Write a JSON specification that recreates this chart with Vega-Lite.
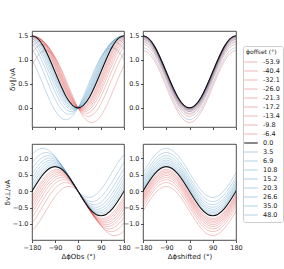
{
"$schema":"https://vega.github.io/schema/vega-lite/v6.json",
"autosize":{"type":"pad"},
"padding":{"left":2,"top":30,"right":0,"bottom":0},
"data":{"values":[
{"off":"-53.9","xs":-270,"xo":-216.1,"par":0.442,"perp":-1.356},{"off":"-53.9","xs":-225,"xo":-171.1,"par":0.972,"perp":-1.136},{"off":"-53.9","xs":-180,"xo":-126.1,"par":1.192,"perp":-0.606},{"off":"-53.9","xs":-135,"xo":-81.1,"par":0.972,"perp":-0.076},{"off":"-53.9","xs":-90,"xo":-36.1,"par":0.442,"perp":0.144},{"off":"-53.9","xs":-45,"xo":8.9,"par":-0.088,"perp":-0.076},{"off":"-53.9","xs":0,"xo":53.9,"par":-0.308,"perp":-0.606},{"off":"-53.9","xs":45,"xo":98.9,"par":-0.088,"perp":-1.136},{"off":"-53.9","xs":90,"xo":143.9,"par":0.442,"perp":-1.356},{"off":"-53.9","xs":135,"xo":188.9,"par":0.972,"perp":-1.136},{"off":"-53.9","xs":180,"xo":233.9,"par":1.192,"perp":-0.606},{"off":"-53.9","xs":225,"xo":278.9,"par":0.972,"perp":-0.076},{"off":"-53.9","xs":270,"xo":323.9,"par":0.442,"perp":0.144},
{"off":"-40.4","xs":-270,"xo":-229.6,"par":0.571,"perp":-1.236},{"off":"-40.4","xs":-225,"xo":-184.6,"par":1.102,"perp":-1.016},{"off":"-40.4","xs":-180,"xo":-139.6,"par":1.321,"perp":-0.486},{"off":"-40.4","xs":-135,"xo":-94.6,"par":1.102,"perp":0.044},{"off":"-40.4","xs":-90,"xo":-49.6,"par":0.571,"perp":0.264},{"off":"-40.4","xs":-45,"xo":-4.6,"par":0.041,"perp":0.044},{"off":"-40.4","xs":0,"xo":40.4,"par":-0.179,"perp":-0.486},{"off":"-40.4","xs":45,"xo":85.4,"par":0.041,"perp":-1.016},{"off":"-40.4","xs":90,"xo":130.4,"par":0.571,"perp":-1.236},{"off":"-40.4","xs":135,"xo":175.4,"par":1.102,"perp":-1.016},{"off":"-40.4","xs":180,"xo":220.4,"par":1.321,"perp":-0.486},{"off":"-40.4","xs":225,"xo":265.4,"par":1.102,"perp":0.044},{"off":"-40.4","xs":270,"xo":310.4,"par":0.571,"perp":0.264},
{"off":"-32.1","xs":-270,"xo":-237.9,"par":0.635,"perp":-1.149},{"off":"-32.1","xs":-225,"xo":-192.9,"par":1.166,"perp":-0.929},{"off":"-32.1","xs":-180,"xo":-147.9,"par":1.385,"perp":-0.399},{"off":"-32.1","xs":-135,"xo":-102.9,"par":1.166,"perp":0.132},{"off":"-32.1","xs":-90,"xo":-57.9,"par":0.635,"perp":0.351},{"off":"-32.1","xs":-45,"xo":-12.9,"par":0.105,"perp":0.132},{"off":"-32.1","xs":0,"xo":32.1,"par":-0.115,"perp":-0.399},{"off":"-32.1","xs":45,"xo":77.1,"par":0.105,"perp":-0.929},{"off":"-32.1","xs":90,"xo":122.1,"par":0.635,"perp":-1.149},{"off":"-32.1","xs":135,"xo":167.1,"par":1.166,"perp":-0.929},{"off":"-32.1","xs":180,"xo":212.1,"par":1.385,"perp":-0.399},{"off":"-32.1","xs":225,"xo":257.1,"par":1.166,"perp":0.132},{"off":"-32.1","xs":270,"xo":302.1,"par":0.635,"perp":0.351},
{"off":"-26.0","xs":-270,"xo":-244,"par":0.674,"perp":-1.079},{"off":"-26.0","xs":-225,"xo":-199,"par":1.204,"perp":-0.859},{"off":"-26.0","xs":-180,"xo":-154,"par":1.424,"perp":-0.329},{"off":"-26.0","xs":-135,"xo":-109,"par":1.204,"perp":0.202},{"off":"-26.0","xs":-90,"xo":-64,"par":0.674,"perp":0.421},{"off":"-26.0","xs":-45,"xo":-19,"par":0.144,"perp":0.202},{"off":"-26.0","xs":0,"xo":26,"par":-0.076,"perp":-0.329},{"off":"-26.0","xs":45,"xo":71,"par":0.144,"perp":-0.859},{"off":"-26.0","xs":90,"xo":116,"par":0.674,"perp":-1.079},{"off":"-26.0","xs":135,"xo":161,"par":1.204,"perp":-0.859},{"off":"-26.0","xs":180,"xo":206,"par":1.424,"perp":-0.329},{"off":"-26.0","xs":225,"xo":251,"par":1.204,"perp":0.202},{"off":"-26.0","xs":270,"xo":296,"par":0.674,"perp":0.421},
{"off":"-21.3","xs":-270,"xo":-248.7,"par":0.699,"perp":-1.022},{"off":"-21.3","xs":-225,"xo":-203.7,"par":1.229,"perp":-0.803},{"off":"-21.3","xs":-180,"xo":-158.7,"par":1.449,"perp":-0.272},{"off":"-21.3","xs":-135,"xo":-113.7,"par":1.229,"perp":0.258},{"off":"-21.3","xs":-90,"xo":-68.7,"par":0.699,"perp":0.478},{"off":"-21.3","xs":-45,"xo":-23.7,"par":0.168,"perp":0.258},{"off":"-21.3","xs":0,"xo":21.3,"par":-0.051,"perp":-0.272},{"off":"-21.3","xs":45,"xo":66.3,"par":0.168,"perp":-0.803},{"off":"-21.3","xs":90,"xo":111.3,"par":0.699,"perp":-1.022},{"off":"-21.3","xs":135,"xo":156.3,"par":1.229,"perp":-0.803},{"off":"-21.3","xs":180,"xo":201.3,"par":1.449,"perp":-0.272},{"off":"-21.3","xs":225,"xo":246.3,"par":1.229,"perp":0.258},{"off":"-21.3","xs":270,"xo":291.3,"par":0.699,"perp":0.478},
{"off":"-17.2","xs":-270,"xo":-252.8,"par":0.717,"perp":-0.972},{"off":"-17.2","xs":-225,"xo":-207.8,"par":1.247,"perp":-0.752},{"off":"-17.2","xs":-180,"xo":-162.8,"par":1.467,"perp":-0.222},{"off":"-17.2","xs":-135,"xo":-117.8,"par":1.247,"perp":0.309},{"off":"-17.2","xs":-90,"xo":-72.8,"par":0.717,"perp":0.528},{"off":"-17.2","xs":-45,"xo":-27.8,"par":0.186,"perp":0.309},{"off":"-17.2","xs":0,"xo":17.2,"par":-0.034,"perp":-0.222},{"off":"-17.2","xs":45,"xo":62.2,"par":0.186,"perp":-0.752},{"off":"-17.2","xs":90,"xo":107.2,"par":0.717,"perp":-0.972},{"off":"-17.2","xs":135,"xo":152.2,"par":1.247,"perp":-0.752},{"off":"-17.2","xs":180,"xo":197.2,"par":1.467,"perp":-0.222},{"off":"-17.2","xs":225,"xo":242.2,"par":1.247,"perp":0.309},{"off":"-17.2","xs":270,"xo":287.2,"par":0.717,"perp":0.528},
{"off":"-13.4","xs":-270,"xo":-256.6,"par":0.73,"perp":-0.924},{"off":"-13.4","xs":-225,"xo":-211.6,"par":1.26,"perp":-0.704},{"off":"-13.4","xs":-180,"xo":-166.6,"par":1.48,"perp":-0.174},{"off":"-13.4","xs":-135,"xo":-121.6,"par":1.26,"perp":0.357},{"off":"-13.4","xs":-90,"xo":-76.6,"par":0.73,"perp":0.576},{"off":"-13.4","xs":-45,"xo":-31.6,"par":0.199,"perp":0.357},{"off":"-13.4","xs":0,"xo":13.4,"par":-0.02,"perp":-0.174},{"off":"-13.4","xs":45,"xo":58.4,"par":0.199,"perp":-0.704},{"off":"-13.4","xs":90,"xo":103.4,"par":0.73,"perp":-0.924},{"off":"-13.4","xs":135,"xo":148.4,"par":1.26,"perp":-0.704},{"off":"-13.4","xs":180,"xo":193.4,"par":1.48,"perp":-0.174},{"off":"-13.4","xs":225,"xo":238.4,"par":1.26,"perp":0.357},{"off":"-13.4","xs":270,"xo":283.4,"par":0.73,"perp":0.576},
{"off":"-9.8","xs":-270,"xo":-260.2,"par":0.739,"perp":-0.878},{"off":"-9.8","xs":-225,"xo":-215.2,"par":1.269,"perp":-0.658},{"off":"-9.8","xs":-180,"xo":-170.2,"par":1.489,"perp":-0.128},{"off":"-9.8","xs":-135,"xo":-125.2,"par":1.269,"perp":0.403},{"off":"-9.8","xs":-90,"xo":-80.2,"par":0.739,"perp":0.622},{"off":"-9.8","xs":-45,"xo":-35.2,"par":0.209,"perp":0.403},{"off":"-9.8","xs":0,"xo":9.8,"par":-0.011,"perp":-0.128},{"off":"-9.8","xs":45,"xo":54.8,"par":0.209,"perp":-0.658},{"off":"-9.8","xs":90,"xo":99.8,"par":0.739,"perp":-0.878},{"off":"-9.8","xs":135,"xo":144.8,"par":1.269,"perp":-0.658},{"off":"-9.8","xs":180,"xo":189.8,"par":1.489,"perp":-0.128},{"off":"-9.8","xs":225,"xo":234.8,"par":1.269,"perp":0.403},{"off":"-9.8","xs":270,"xo":279.8,"par":0.739,"perp":0.622},
{"off":"-6.4","xs":-270,"xo":-263.6,"par":0.745,"perp":-0.834},{"off":"-6.4","xs":-225,"xo":-218.6,"par":1.276,"perp":-0.614},{"off":"-6.4","xs":-180,"xo":-173.6,"par":1.495,"perp":-0.084},{"off":"-6.4","xs":-135,"xo":-128.6,"par":1.276,"perp":0.447},{"off":"-6.4","xs":-90,"xo":-83.6,"par":0.745,"perp":0.666},{"off":"-6.4","xs":-45,"xo":-38.6,"par":0.215,"perp":0.447},{"off":"-6.4","xs":0,"xo":6.4,"par":-0.005,"perp":-0.084},{"off":"-6.4","xs":45,"xo":51.4,"par":0.215,"perp":-0.614},{"off":"-6.4","xs":90,"xo":96.4,"par":0.745,"perp":-0.834},{"off":"-6.4","xs":135,"xo":141.4,"par":1.276,"perp":-0.614},{"off":"-6.4","xs":180,"xo":186.4,"par":1.495,"perp":-0.084},{"off":"-6.4","xs":225,"xo":231.4,"par":1.276,"perp":0.447},{"off":"-6.4","xs":270,"xo":276.4,"par":0.745,"perp":0.666},
{"off":"0.0","xs":-270,"xo":-270,"par":0.75,"perp":-0.75},{"off":"0.0","xs":-225,"xo":-225,"par":1.28,"perp":-0.53},{"off":"0.0","xs":-180,"xo":-180,"par":1.5,"perp":0},{"off":"0.0","xs":-135,"xo":-135,"par":1.28,"perp":0.53},{"off":"0.0","xs":-90,"xo":-90,"par":0.75,"perp":0.75},{"off":"0.0","xs":-45,"xo":-45,"par":0.22,"perp":0.53},{"off":"0.0","xs":0,"xo":0,"par":0,"perp":0},{"off":"0.0","xs":45,"xo":45,"par":0.22,"perp":-0.53},{"off":"0.0","xs":90,"xo":90,"par":0.75,"perp":-0.75},{"off":"0.0","xs":135,"xo":135,"par":1.28,"perp":-0.53},{"off":"0.0","xs":180,"xo":180,"par":1.5,"perp":0},{"off":"0.0","xs":225,"xo":225,"par":1.28,"perp":0.53},{"off":"0.0","xs":270,"xo":270,"par":0.75,"perp":0.75},
{"off":"3.5","xs":-270,"xo":-273.5,"par":0.749,"perp":-0.704},{"off":"3.5","xs":-225,"xo":-228.5,"par":1.279,"perp":-0.485},{"off":"3.5","xs":-180,"xo":-183.5,"par":1.499,"perp":0.046},{"off":"3.5","xs":-135,"xo":-138.5,"par":1.279,"perp":0.576},{"off":"3.5","xs":-90,"xo":-93.5,"par":0.749,"perp":0.796},{"off":"3.5","xs":-45,"xo":-48.5,"par":0.218,"perp":0.576},{"off":"3.5","xs":0,"xo":-3.5,"par":-0.001,"perp":0.046},{"off":"3.5","xs":45,"xo":41.5,"par":0.218,"perp":-0.485},{"off":"3.5","xs":90,"xo":86.5,"par":0.749,"perp":-0.704},{"off":"3.5","xs":135,"xo":131.5,"par":1.279,"perp":-0.485},{"off":"3.5","xs":180,"xo":176.5,"par":1.499,"perp":0.046},{"off":"3.5","xs":225,"xo":221.5,"par":1.279,"perp":0.576},{"off":"3.5","xs":270,"xo":266.5,"par":0.749,"perp":0.796},
{"off":"6.9","xs":-270,"xo":-276.9,"par":0.745,"perp":-0.66},{"off":"6.9","xs":-225,"xo":-231.9,"par":1.275,"perp":-0.44},{"off":"6.9","xs":-180,"xo":-186.9,"par":1.495,"perp":0.09},{"off":"6.9","xs":-135,"xo":-141.9,"par":1.275,"perp":0.62},{"off":"6.9","xs":-90,"xo":-96.9,"par":0.745,"perp":0.84},{"off":"6.9","xs":-45,"xo":-51.9,"par":0.214,"perp":0.62},{"off":"6.9","xs":0,"xo":-6.9,"par":-0.005,"perp":0.09},{"off":"6.9","xs":45,"xo":38.1,"par":0.214,"perp":-0.44},{"off":"6.9","xs":90,"xo":83.1,"par":0.745,"perp":-0.66},{"off":"6.9","xs":135,"xo":128.1,"par":1.275,"perp":-0.44},{"off":"6.9","xs":180,"xo":173.1,"par":1.495,"perp":0.09},{"off":"6.9","xs":225,"xo":218.1,"par":1.275,"perp":0.62},{"off":"6.9","xs":270,"xo":263.1,"par":0.745,"perp":0.84},
{"off":"10.8","xs":-270,"xo":-280.8,"par":0.737,"perp":-0.61},{"off":"10.8","xs":-225,"xo":-235.8,"par":1.267,"perp":-0.39},{"off":"10.8","xs":-180,"xo":-190.8,"par":1.487,"perp":0.141},{"off":"10.8","xs":-135,"xo":-145.8,"par":1.267,"perp":0.671},{"off":"10.8","xs":-90,"xo":-100.8,"par":0.737,"perp":0.891},{"off":"10.8","xs":-45,"xo":-55.8,"par":0.206,"perp":0.671},{"off":"10.8","xs":0,"xo":-10.8,"par":-0.013,"perp":0.141},{"off":"10.8","xs":45,"xo":34.2,"par":0.206,"perp":-0.39},{"off":"10.8","xs":90,"xo":79.2,"par":0.737,"perp":-0.61},{"off":"10.8","xs":135,"xo":124.2,"par":1.267,"perp":-0.39},{"off":"10.8","xs":180,"xo":169.2,"par":1.487,"perp":0.141},{"off":"10.8","xs":225,"xo":214.2,"par":1.267,"perp":0.671},{"off":"10.8","xs":270,"xo":259.2,"par":0.737,"perp":0.891},
{"off":"15.2","xs":-270,"xo":-285.2,"par":0.724,"perp":-0.553},{"off":"15.2","xs":-225,"xo":-240.2,"par":1.254,"perp":-0.334},{"off":"15.2","xs":-180,"xo":-195.2,"par":1.474,"perp":0.197},{"off":"15.2","xs":-135,"xo":-150.2,"par":1.254,"perp":0.727},{"off":"15.2","xs":-90,"xo":-105.2,"par":0.724,"perp":0.947},{"off":"15.2","xs":-45,"xo":-60.2,"par":0.194,"perp":0.727},{"off":"15.2","xs":0,"xo":-15.2,"par":-0.026,"perp":0.197},{"off":"15.2","xs":45,"xo":29.8,"par":0.194,"perp":-0.334},{"off":"15.2","xs":90,"xo":74.8,"par":0.724,"perp":-0.553},{"off":"15.2","xs":135,"xo":119.8,"par":1.254,"perp":-0.334},{"off":"15.2","xs":180,"xo":164.8,"par":1.474,"perp":0.197},{"off":"15.2","xs":225,"xo":209.8,"par":1.254,"perp":0.727},{"off":"15.2","xs":270,"xo":254.8,"par":0.724,"perp":0.947},
{"off":"20.3","xs":-270,"xo":-290.3,"par":0.703,"perp":-0.49},{"off":"20.3","xs":-225,"xo":-245.3,"par":1.234,"perp":-0.27},{"off":"20.3","xs":-180,"xo":-200.3,"par":1.453,"perp":0.26},{"off":"20.3","xs":-135,"xo":-155.3,"par":1.234,"perp":0.791},{"off":"20.3","xs":-90,"xo":-110.3,"par":0.703,"perp":1.01},{"off":"20.3","xs":-45,"xo":-65.3,"par":0.173,"perp":0.791},{"off":"20.3","xs":0,"xo":-20.3,"par":-0.047,"perp":0.26},{"off":"20.3","xs":45,"xo":24.7,"par":0.173,"perp":-0.27},{"off":"20.3","xs":90,"xo":69.7,"par":0.703,"perp":-0.49},{"off":"20.3","xs":135,"xo":114.7,"par":1.234,"perp":-0.27},{"off":"20.3","xs":180,"xo":159.7,"par":1.453,"perp":0.26},{"off":"20.3","xs":225,"xo":204.7,"par":1.234,"perp":0.791},{"off":"20.3","xs":270,"xo":249.7,"par":0.703,"perp":1.01},
{"off":"26.6","xs":-270,"xo":-296.6,"par":0.671,"perp":-0.414},{"off":"26.6","xs":-225,"xo":-251.6,"par":1.201,"perp":-0.195},{"off":"26.6","xs":-180,"xo":-206.6,"par":1.421,"perp":0.336},{"off":"26.6","xs":-135,"xo":-161.6,"par":1.201,"perp":0.866},{"off":"26.6","xs":-90,"xo":-116.6,"par":0.671,"perp":1.086},{"off":"26.6","xs":-45,"xo":-71.6,"par":0.14,"perp":0.866},{"off":"26.6","xs":0,"xo":-26.6,"par":-0.079,"perp":0.336},{"off":"26.6","xs":45,"xo":18.4,"par":0.14,"perp":-0.195},{"off":"26.6","xs":90,"xo":63.4,"par":0.671,"perp":-0.414},{"off":"26.6","xs":135,"xo":108.4,"par":1.201,"perp":-0.195},{"off":"26.6","xs":180,"xo":153.4,"par":1.421,"perp":0.336},{"off":"26.6","xs":225,"xo":198.4,"par":1.201,"perp":0.866},{"off":"26.6","xs":270,"xo":243.4,"par":0.671,"perp":1.086},
{"off":"35.0","xs":-270,"xo":-305,"par":0.614,"perp":-0.32},{"off":"35.0","xs":-225,"xo":-260,"par":1.145,"perp":-0.1},{"off":"35.0","xs":-180,"xo":-215,"par":1.364,"perp":0.43},{"off":"35.0","xs":-135,"xo":-170,"par":1.145,"perp":0.961},{"off":"35.0","xs":-90,"xo":-125,"par":0.614,"perp":1.18},{"off":"35.0","xs":-45,"xo":-80,"par":0.084,"perp":0.961},{"off":"35.0","xs":0,"xo":-35,"par":-0.136,"perp":0.43},{"off":"35.0","xs":45,"xo":10,"par":0.084,"perp":-0.1},{"off":"35.0","xs":90,"xo":55,"par":0.614,"perp":-0.32},{"off":"35.0","xs":135,"xo":100,"par":1.145,"perp":-0.1},{"off":"35.0","xs":180,"xo":145,"par":1.364,"perp":0.43},{"off":"35.0","xs":225,"xo":190,"par":1.145,"perp":0.961},{"off":"35.0","xs":270,"xo":235,"par":0.614,"perp":1.18},
{"off":"48.0","xs":-270,"xo":-318,"par":0.502,"perp":-0.193},{"off":"48.0","xs":-225,"xo":-273,"par":1.032,"perp":0.027},{"off":"48.0","xs":-180,"xo":-228,"par":1.252,"perp":0.557},{"off":"48.0","xs":-135,"xo":-183,"par":1.032,"perp":1.088},{"off":"48.0","xs":-90,"xo":-138,"par":0.502,"perp":1.307},{"off":"48.0","xs":-45,"xo":-93,"par":-0.028,"perp":1.088},{"off":"48.0","xs":0,"xo":-48,"par":-0.248,"perp":0.557},{"off":"48.0","xs":45,"xo":-3,"par":-0.028,"perp":0.027},{"off":"48.0","xs":90,"xo":42,"par":0.502,"perp":-0.193},{"off":"48.0","xs":135,"xo":87,"par":1.032,"perp":0.027},{"off":"48.0","xs":180,"xo":132,"par":1.252,"perp":0.557},{"off":"48.0","xs":225,"xo":177,"par":1.032,"perp":1.088},{"off":"48.0","xs":270,"xo":222,"par":0.502,"perp":1.307}
]},
"config":{
"font":"DejaVu Sans",
"view":{"stroke":"#222","strokeWidth":0.8},
"axis":{"domain":false,"grid":false,"tickSize":2.5,"tickColor":"#222","tickWidth":0.8,"labelFontSize":6.5,"labelColor":"#222","labelPadding":1.5,"labelOverlap":false,"labelFlush":false,"titleFontSize":7,"titleFontWeight":"normal","titleColor":"#222","titlePadding":2},
"legend":{"orient":"none","legendX":211,"legendY":15,"titleFontSize":6,"titleFontWeight":"normal","titleColor":"#222","labelFontSize":6.5,"labelColor":"#222","symbolType":"M-1.5,0H1.5","symbolSize":80,"symbolStrokeWidth":1,"rowPadding":0,"padding":3,"strokeColor":"#ccc","cornerRadius":2,"fillColor":"white","labelOffset":7,"titlePadding":2}
},
"columns":2,
"spacing":{"row":17,"column":19},
"bounds":"flush",
"concat":[
{"width":92,"height":96,
 "encoding":{
  "x":{"field":"xo","type":"quantitative","scale":{"domain":[-180,180],"nice":false,"zero":false},"axis":{"values":[-180,-90,0,90,180],"labels":false,"title":null}},
  "y":{"field":"par","type":"quantitative","scale":{"domain":[-0.4,1.6],"nice":false,"zero":false},"axis":{"values":[0,0.5,1,1.5],"format":".1f","title":"δv∥/vA"}},
  "color":{"field":"off","type":"nominal","title":"ϕoffset (°)","scale":{"domain":["-53.9","-40.4","-32.1","-26.0","-21.3","-17.2","-13.4","-9.8","-6.4","0.0","3.5","6.9","10.8","15.2","20.3","26.6","35.0","48.0"],"range":["rgba(214,39,40,0.35)","rgba(214,39,40,0.35)","rgba(214,39,40,0.35)","rgba(214,39,40,0.35)","rgba(214,39,40,0.35)","rgba(214,39,40,0.35)","rgba(214,39,40,0.35)","rgba(214,39,40,0.35)","rgba(214,39,40,0.35)","#111111","rgba(31,119,180,0.35)","rgba(31,119,180,0.35)","rgba(31,119,180,0.35)","rgba(31,119,180,0.35)","rgba(31,119,180,0.35)","rgba(31,119,180,0.35)","rgba(31,119,180,0.35)","rgba(31,119,180,0.35)"]}}
 },
 "layer":[
  {"transform":[{"filter":{"not":{"field":"off","equal":"0.0"}}}],"mark":{"type":"line","interpolate":"natural","clip":true,"strokeWidth":0.8}},
  {"transform":[{"filter":{"field":"off","equal":"0.0"}}],"mark":{"type":"line","interpolate":"natural","clip":true,"strokeWidth":1.1}}
 ]},
{"width":93,"height":96,
 "encoding":{
  "x":{"field":"xs","type":"quantitative","scale":{"domain":[-180,180],"nice":false,"zero":false},"axis":{"values":[-180,-90,0,90,180],"labels":false,"title":null}},
  "y":{"field":"par","type":"quantitative","scale":{"domain":[-0.4,1.6],"nice":false,"zero":false},"axis":{"values":[0,0.5,1,1.5],"format":".1f","title":null}},
  "color":{"field":"off","type":"nominal","title":"ϕoffset (°)","scale":{"domain":["-53.9","-40.4","-32.1","-26.0","-21.3","-17.2","-13.4","-9.8","-6.4","0.0","3.5","6.9","10.8","15.2","20.3","26.6","35.0","48.0"],"range":["rgba(214,39,40,0.35)","rgba(214,39,40,0.35)","rgba(214,39,40,0.35)","rgba(214,39,40,0.35)","rgba(214,39,40,0.35)","rgba(214,39,40,0.35)","rgba(214,39,40,0.35)","rgba(214,39,40,0.35)","rgba(214,39,40,0.35)","#111111","rgba(31,119,180,0.35)","rgba(31,119,180,0.35)","rgba(31,119,180,0.35)","rgba(31,119,180,0.35)","rgba(31,119,180,0.35)","rgba(31,119,180,0.35)","rgba(31,119,180,0.35)","rgba(31,119,180,0.35)"]}}
 },
 "layer":[
  {"transform":[{"filter":{"not":{"field":"off","equal":"0.0"}}}],"mark":{"type":"line","interpolate":"natural","clip":true,"strokeWidth":0.8}},
  {"transform":[{"filter":{"field":"off","equal":"0.0"}}],"mark":{"type":"line","interpolate":"natural","clip":true,"strokeWidth":1.1}}
 ]},
{"width":92,"height":96,
 "encoding":{
  "x":{"field":"xo","type":"quantitative","scale":{"domain":[-180,180],"nice":false,"zero":false},"axis":{"values":[-180,-90,0,90,180],"title":"ΔϕObs (°)"}},
  "y":{"field":"perp","type":"quantitative","scale":{"domain":[-1.49,1.44],"nice":false,"zero":false},"axis":{"values":[-1,-0.5,0,0.5,1],"format":".1f","title":"δv⊥/vA"}},
  "color":{"field":"off","type":"nominal","title":"ϕoffset (°)","scale":{"domain":["-53.9","-40.4","-32.1","-26.0","-21.3","-17.2","-13.4","-9.8","-6.4","0.0","3.5","6.9","10.8","15.2","20.3","26.6","35.0","48.0"],"range":["rgba(214,39,40,0.35)","rgba(214,39,40,0.35)","rgba(214,39,40,0.35)","rgba(214,39,40,0.35)","rgba(214,39,40,0.35)","rgba(214,39,40,0.35)","rgba(214,39,40,0.35)","rgba(214,39,40,0.35)","rgba(214,39,40,0.35)","#111111","rgba(31,119,180,0.35)","rgba(31,119,180,0.35)","rgba(31,119,180,0.35)","rgba(31,119,180,0.35)","rgba(31,119,180,0.35)","rgba(31,119,180,0.35)","rgba(31,119,180,0.35)","rgba(31,119,180,0.35)"]}}
 },
 "layer":[
  {"transform":[{"filter":{"not":{"field":"off","equal":"0.0"}}}],"mark":{"type":"line","interpolate":"natural","clip":true,"strokeWidth":0.8}},
  {"transform":[{"filter":{"field":"off","equal":"0.0"}}],"mark":{"type":"line","interpolate":"natural","clip":true,"strokeWidth":1.1}}
 ]},
{"width":93,"height":96,
 "encoding":{
  "x":{"field":"xs","type":"quantitative","scale":{"domain":[-180,180],"nice":false,"zero":false},"axis":{"values":[-180,-90,0,90,180],"title":"Δϕshifted (°)"}},
  "y":{"field":"perp","type":"quantitative","scale":{"domain":[-1.49,1.44],"nice":false,"zero":false},"axis":{"values":[-1,-0.5,0,0.5,1],"format":".1f","title":null}},
  "color":{"field":"off","type":"nominal","title":"ϕoffset (°)","scale":{"domain":["-53.9","-40.4","-32.1","-26.0","-21.3","-17.2","-13.4","-9.8","-6.4","0.0","3.5","6.9","10.8","15.2","20.3","26.6","35.0","48.0"],"range":["rgba(214,39,40,0.35)","rgba(214,39,40,0.35)","rgba(214,39,40,0.35)","rgba(214,39,40,0.35)","rgba(214,39,40,0.35)","rgba(214,39,40,0.35)","rgba(214,39,40,0.35)","rgba(214,39,40,0.35)","rgba(214,39,40,0.35)","#111111","rgba(31,119,180,0.35)","rgba(31,119,180,0.35)","rgba(31,119,180,0.35)","rgba(31,119,180,0.35)","rgba(31,119,180,0.35)","rgba(31,119,180,0.35)","rgba(31,119,180,0.35)","rgba(31,119,180,0.35)"]}}
 },
 "layer":[
  {"transform":[{"filter":{"not":{"field":"off","equal":"0.0"}}}],"mark":{"type":"line","interpolate":"natural","clip":true,"strokeWidth":0.8}},
  {"transform":[{"filter":{"field":"off","equal":"0.0"}}],"mark":{"type":"line","interpolate":"natural","clip":true,"strokeWidth":1.1}}
 ]}
]
}
